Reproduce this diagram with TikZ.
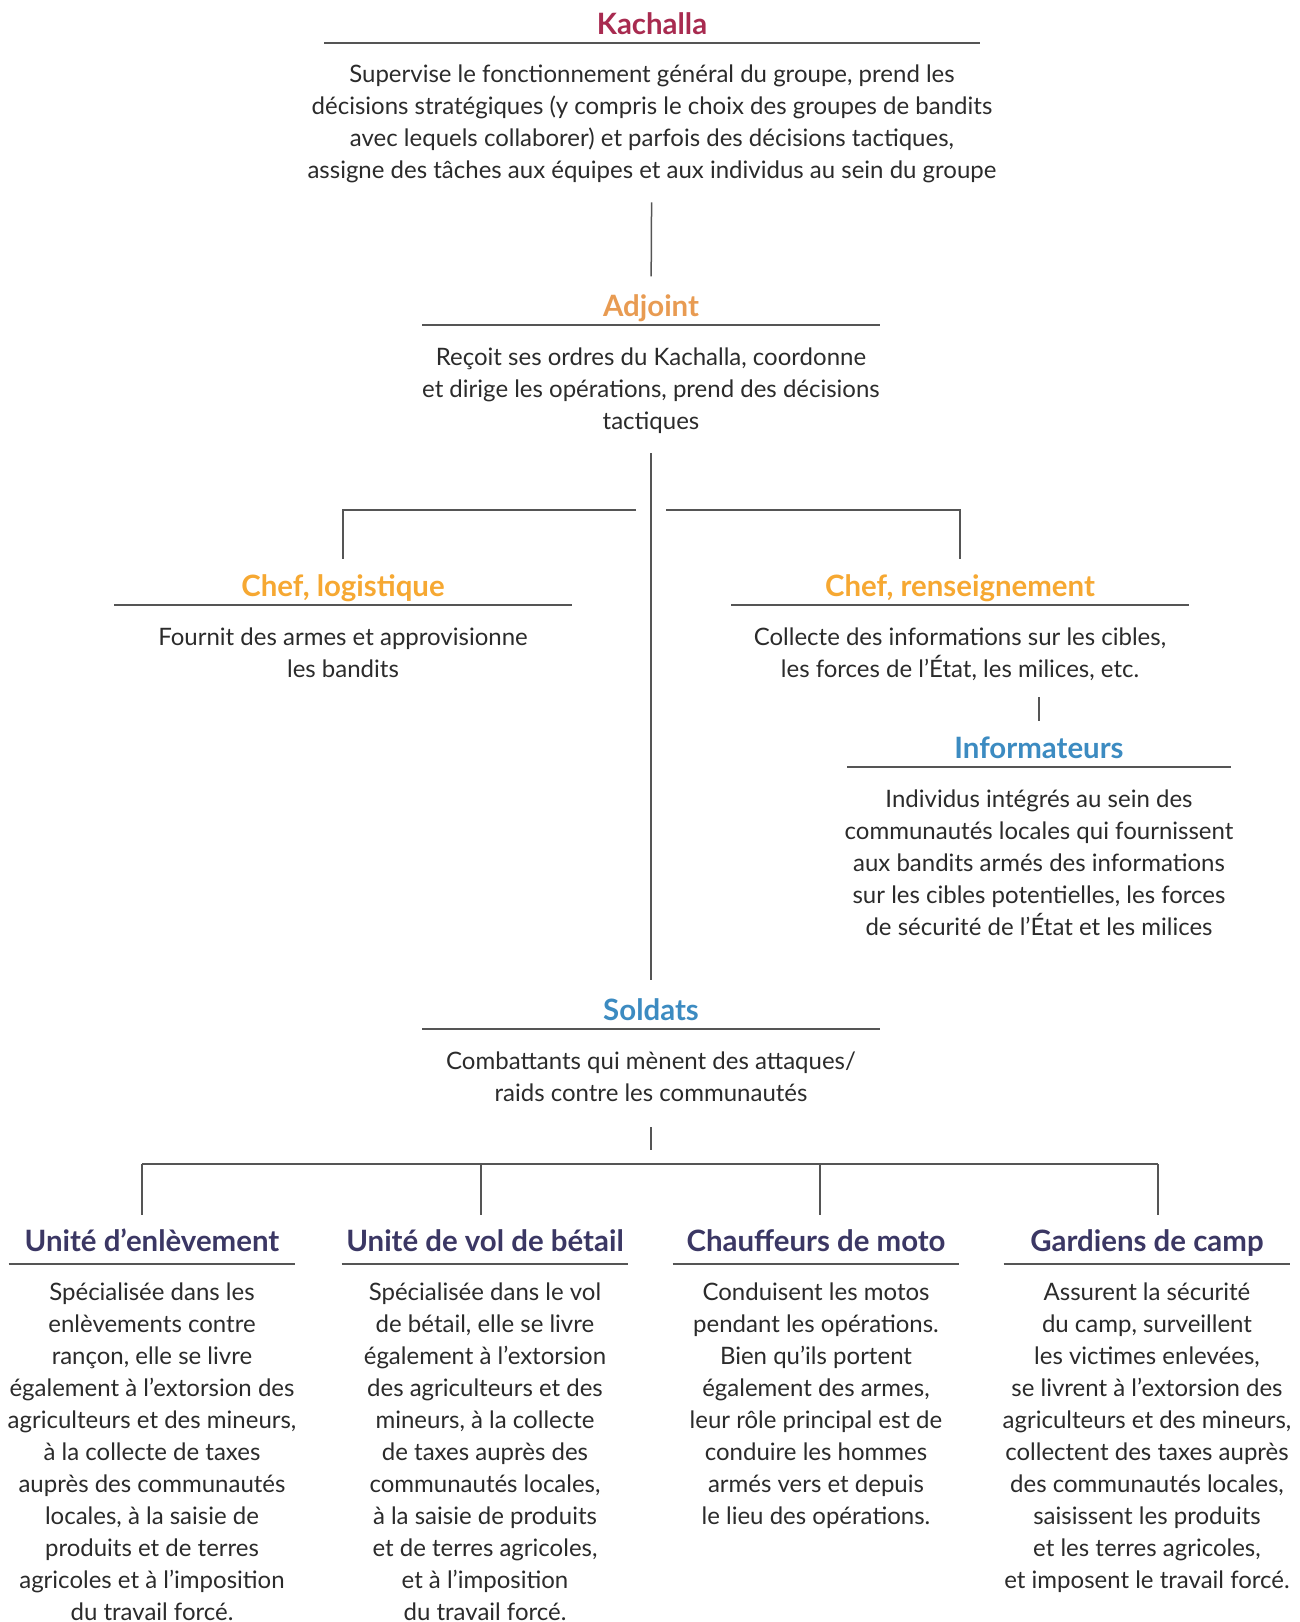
\documentclass[tikz,border=0pt]{standalone}
\usepackage{fontspec}
\setmainfont{Lato}
\usepackage{tikz}
\usetikzlibrary{positioning}
\definecolor{KRed}{HTML}{A82B50}
\definecolor{AdjOrange}{HTML}{E89B52}
\definecolor{ChefAmber}{HTML}{F6A832}
\definecolor{InfoBlue}{HTML}{3C8BC1}
\definecolor{UnitNavy}{HTML}{3B3764}
\definecolor{BodyGray}{HTML}{2B2B2B}
\definecolor{LineGray}{HTML}{555555}

\begin{document}
\begin{tikzpicture}[
  x=0.5pt,y=-0.5pt,
  node distance=11pt,
  roletitle/.style={anchor=south,font=\fontsize{14.7}{16}\selectfont\bfseries,
               text depth=0pt,inner xsep=0pt,inner ysep=4pt},
  unittitle/.style={roletitle,text=UnitNavy,minimum width=143pt,inner ysep=6pt},
  roletext/.style={font=\fontsize{12}{16}\selectfont,text=BodyGray,align=center,
               inner sep=0pt,text depth=3pt},
  rulel/.style={draw=LineGray,line width=0.75pt},
  link/.style={draw=LineGray,line width=0.75pt,shorten <=9pt,shorten >=5pt}
]
\useasboundingbox (0,0) rectangle (1300,1622);
% top of the chart
\node[roletitle,text=KRed,minimum width=327.5pt] (kach) at (652,43) {Kachalla};
\node[roletext,below=10.5pt of kach] (kachtxt) {Supervise le fonctionnement général du groupe, prend les\\
  décisions stratégiques (y compris le choix des groupes de bandits\\
  avec lequels collaborer) et parfois des décisions tactiques,\\
  assigne des tâches aux équipes et aux individus au sein du groupe};
\node[roletitle,text=AdjOrange,minimum width=228.5pt] (adj) at (651,325) {Adjoint};
\node[roletext,below=of adj] (adjtxt) {Reçoit ses ordres du Kachalla, coordonne\\
  et dirige les opérations, prend des décisions\\ tactiques};
% chefs
\node[roletitle,text=ChefAmber,minimum width=228.5pt] (logi) at (343,605) {Chef, logistique};
\node[roletext,below=of logi] (logitxt) {Fournit des armes et approvisionne\\ les bandits};
\node[roletitle,text=ChefAmber,minimum width=228.5pt] (rens) at (960,605) {Chef, renseignement};
\node[roletext,below=of rens] (renstxt) {Collecte des informations sur les cibles,\\
  les forces de l’État, les milices, etc.};
\node[roletitle,text=InfoBlue,minimum width=191.5pt] (info) at (1039,767) {Informateurs};
\node[roletext,below=of info] (infotxt) {Individus intégrés au sein des\\
  communautés locales qui fournissent\\ aux bandits armés des informations\\
  sur les cibles potentielles, les forces\\ de sécurité de l’État et les milices};
\node[roletitle,text=InfoBlue,minimum width=228.5pt] (sold) at (651,1029) {Soldats};
\node[roletext,below=of sold] (soldtxt) {Combattants qui mènent des attaques/\\
  raids contre les communautés};
% units
\node[unittitle] (u1) at (152,1264) {Unité d’enlèvement};
\node[unittitle] (u2) at (485,1264) {Unité de vol de bétail};
\node[unittitle] (u3) at (816,1264) {Chauffeurs de moto};
\node[unittitle] (u4) at (1147,1264) {Gardiens de camp};
\node[roletext,below=9pt of u1] (u1txt) {Spécialisée dans les\\ enlèvements contre\\ rançon, elle se livre\\
  également à l’extorsion des\\ agriculteurs et des mineurs,\\ à la collecte de taxes\\
  auprès des communautés\\ locales, à la saisie de\\ produits et de terres\\
  agricoles et à l’imposition\\ du travail forcé.};
\node[roletext,below=9pt of u2] (u2txt) {Spécialisée dans le vol\\ de bétail, elle se livre\\
  également à l’extorsion\\ des agriculteurs et des\\ mineurs, à la collecte\\
  de taxes auprès des\\ communautés locales,\\ à la saisie de produits\\
  et de terres agricoles,\\ et à l’imposition\\ du travail forcé.};
\node[roletext,below=9pt of u3] (u3txt) {Conduisent les motos\\ pendant les opérations.\\
  Bien qu’ils portent\\ également des armes,\\ leur rôle principal est de\\
  conduire les hommes\\ armés vers et depuis\\ le lieu des opérations.};
\node[roletext,below=9pt of u4] (u4txt) {Assurent la sécurité\\ du camp, surveillent\\
  les victimes enlevées,\\ se livrent à l’extorsion des\\ agriculteurs et des mineurs,\\
  collectent des taxes auprès\\ des communautés locales,\\ saisissent les produits\\
  et les terres agricoles,\\ et imposent le travail forcé.};
% rules under the titles
\foreach \n in {kach,adj,logi,rens,info,sold,u1,u2,u3,u4}{\draw[rulel] (\n.south west) -- (\n.south east);}
% connectors
\coordinate (fork) at (651,510);
\coordinate (bus) at (651,1164);
\draw[link] (kachtxt) -- (adj);
\draw[link] (adjtxt) -- (sold);
\draw[link,shorten <=0pt,shorten >=3.5pt] ([xshift=-7.5pt]fork) -| (logi);
\draw[link,shorten <=0pt,shorten >=3.5pt] ([xshift=7.5pt]fork) -| (rens);
\draw[link,shorten <=7pt,shorten >=4pt] (info.north |- renstxt.south) -- (info);
\draw[link,shorten <=10pt,shorten >=7pt] (soldtxt) -- (bus);
\foreach \i/\x in {1/142,2/481,3/820,4/1158}{\coordinate (d\i) at (\x,1164);}
\draw[rulel] (d1) -- (d4);
\foreach \i in {1,2,3,4}{\draw[link,shorten <=0pt,shorten >=1pt] (d\i) -- (d\i |- u\i.north);}
\end{tikzpicture}
\end{document}
